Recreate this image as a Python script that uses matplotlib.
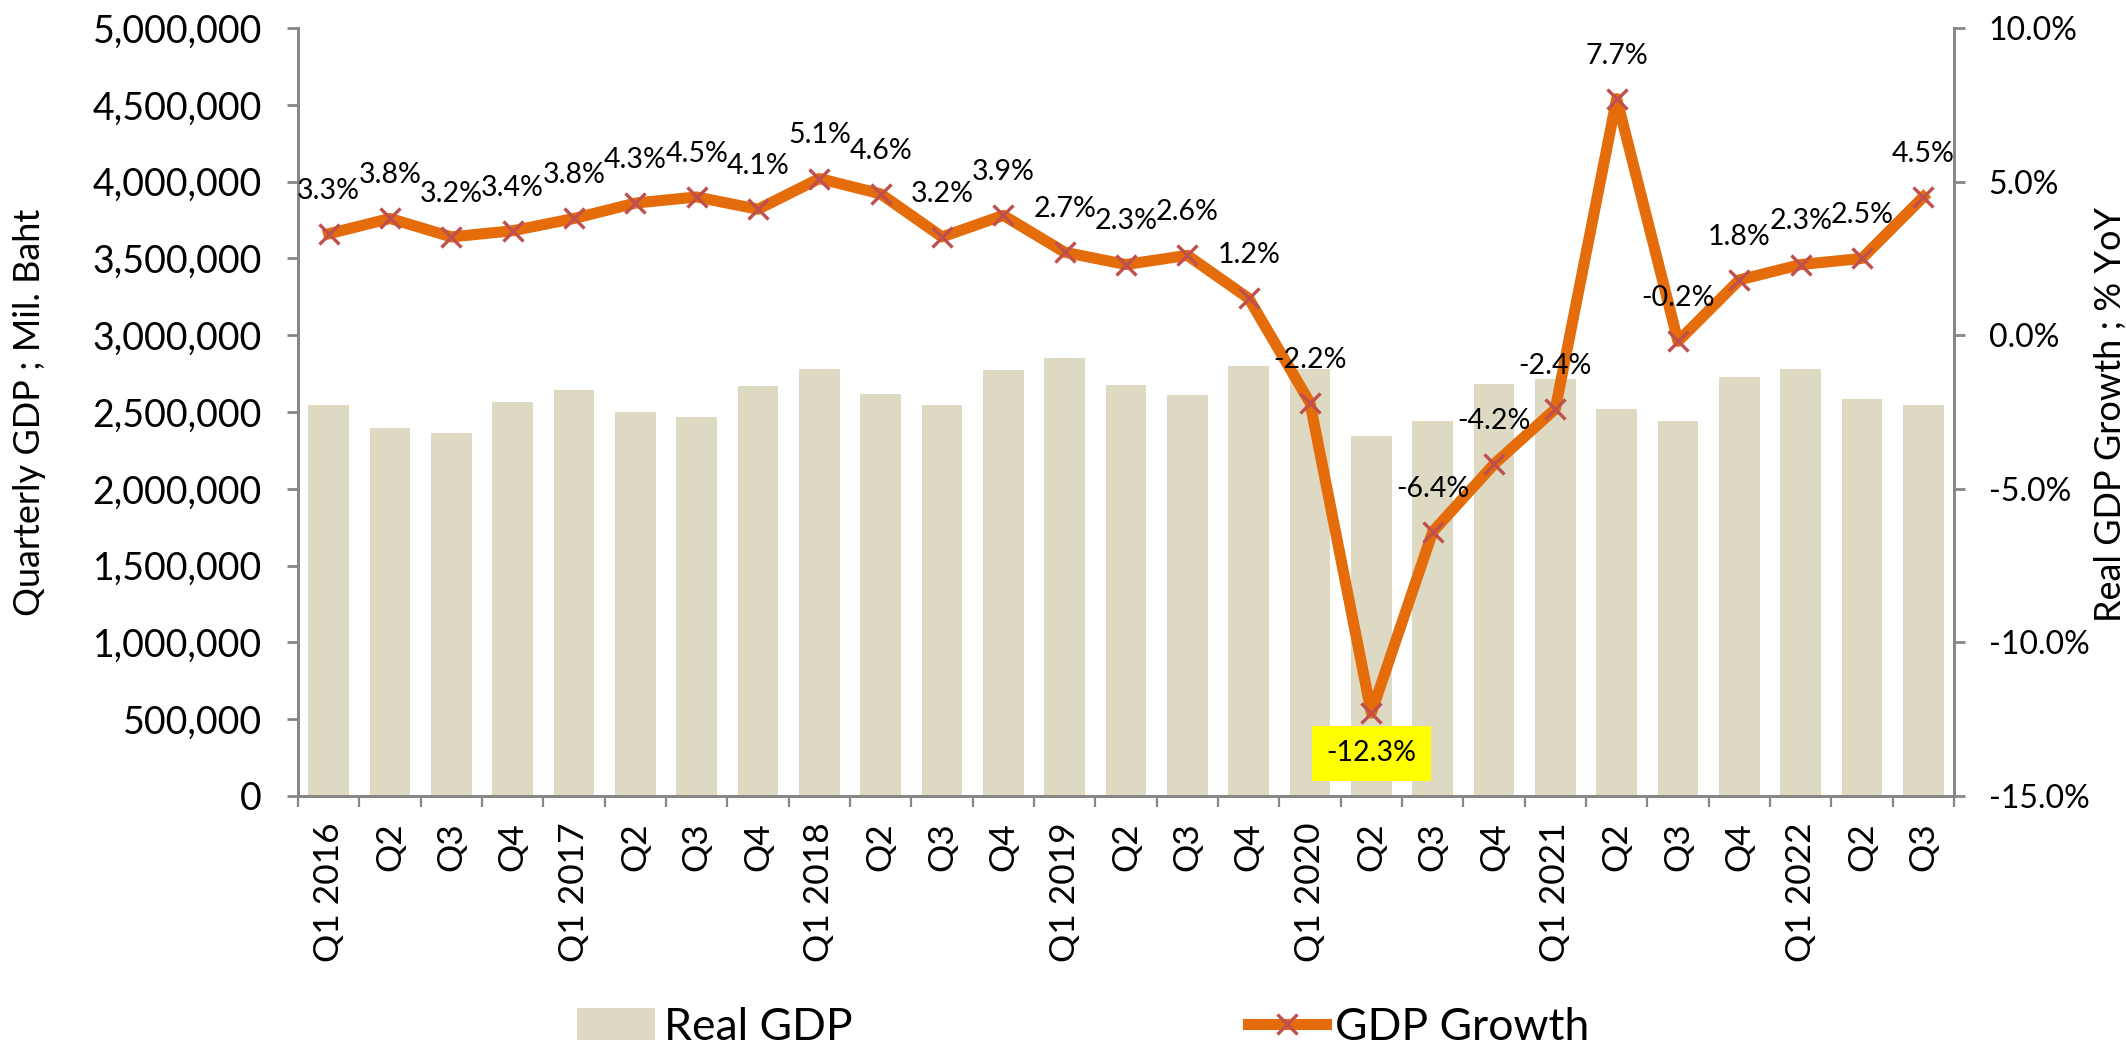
import matplotlib
matplotlib.use("Agg")
import matplotlib.pyplot as plt
from matplotlib.ticker import FuncFormatter, FixedLocator

plt.rcParams['font.family'] = ['Lato', 'DejaVu Sans']

# datos
quarters = ['Q1 2016', 'Q2', 'Q3', 'Q4', 'Q1 2017', 'Q2', 'Q3', 'Q4',
            'Q1 2018', 'Q2', 'Q3', 'Q4', 'Q1 2019', 'Q2', 'Q3', 'Q4',
            'Q1 2020', 'Q2', 'Q3', 'Q4', 'Q1 2021', 'Q2', 'Q3', 'Q4',
            'Q1 2022', 'Q2', 'Q3']
real_gdp = [2546000, 2395000, 2362000, 2565000, 2644000, 2500000, 2467000,
            2668000, 2777000, 2618000, 2548000, 2771000, 2851000, 2677000,
            2612000, 2802000, 2783000, 2341000, 2443000, 2685000, 2718000,
            2522000, 2439000, 2729000, 2783000, 2585000, 2548000]
growth = [3.3, 3.8, 3.2, 3.4, 3.8, 4.3, 4.5, 4.1, 5.1, 4.6, 3.2, 3.9, 2.7,
          2.3, 2.6, 1.2, -2.2, -12.3, -6.4, -4.2, -2.4, 7.7, -0.2, 1.8, 2.3,
          2.5, 4.5]

BAR = '#DDD9C3'
LINE = '#E46C0A'
MARK = '#C0504D'
AXC = '#868686'

W, H = 2126, 1046
fig = plt.figure(figsize=(W / 100, H / 100), dpi=100)
ax = fig.add_axes([298 / W, 1 - 796 / H, (1954 - 298) / W, (796 - 28) / H])
ax2 = ax.twinx()

x = list(range(len(quarters)))
bars = ax.bar(x, real_gdp, width=0.66, color=BAR, label='Real GDP', zorder=2)
line, = ax2.plot(x, growth, color=LINE, lw=8, marker='x', ms=15,
                 mec=MARK, mew=2.4, label='GDP Growth', zorder=3)

ax.set_xlim(-0.5, len(quarters) - 0.5)
ax.set_ylim(0, 5000000)
ax2.set_ylim(-15, 10)
ax.set_yticks(range(0, 5000001, 500000))
ax.yaxis.set_major_formatter(FuncFormatter(lambda v, p: f'{int(v):,}'))
ax2.set_yticks(range(-15, 11, 5))
ax2.yaxis.set_major_formatter(FuncFormatter(lambda v, p: f'{v:.1f}%'))

ax.set_xticks(x)
ax.set_xticklabels(quarters, rotation=90, fontsize=25.5)
ax.xaxis.set_minor_locator(FixedLocator([i - 0.5 for i in range(len(quarters) + 1)]))
ax.tick_params(axis='x', which='major', length=0, pad=19)
ax.tick_params(axis='x', which='minor', length=8, width=1.6, color=AXC)
ax.tick_params(axis='y', length=8, width=2, color=AXC, labelsize=27, pad=18)
ax2.tick_params(axis='y', length=8, width=2, color=AXC, labelsize=23, pad=17)

for a in (ax, ax2):
    a.spines['top'].set_visible(False)
    for s in ('left', 'right', 'bottom'):
        a.spines[s].set_color(AXC)
        a.spines[s].set_linewidth(2)

# etiquetas de datos
for i, g in enumerate(growth):
    if g == min(growth):
        ax2.annotate(f'{g:.1f}%', (i, g), xytext=(0, -29), textcoords='offset points',
                     ha='center', va='center', fontsize=20.5,
                     bbox=dict(boxstyle='square,pad=0.5', fc='yellow', ec='none'))
    else:
        ax2.annotate(f'{g:.1f}%', (i, g), xytext=(0, 31), textcoords='offset points',
                     ha='center', va='center', fontsize=20.5)

fig.text(30 / W, 1 - 412 / H, 'Quarterly GDP ; Mil. Baht', rotation=90,
         ha='center', va='center', fontsize=26)
fig.text(2111 / W, 1 - 415 / H, 'Real GDP Growth ; % YoY', rotation=90,
         ha='center', va='center', fontsize=26)

fig.legend([bars, line], ['Real GDP', 'GDP Growth'], loc='center left',
           bbox_to_anchor=(577 / W, 1 - 1027 / H), ncol=2, frameon=False,
           fontsize=32, borderpad=0, handlelength=1.75, handletextpad=0.2,
           columnspacing=8.9, borderaxespad=0)

fig.savefig('out.png', dpi=100)
